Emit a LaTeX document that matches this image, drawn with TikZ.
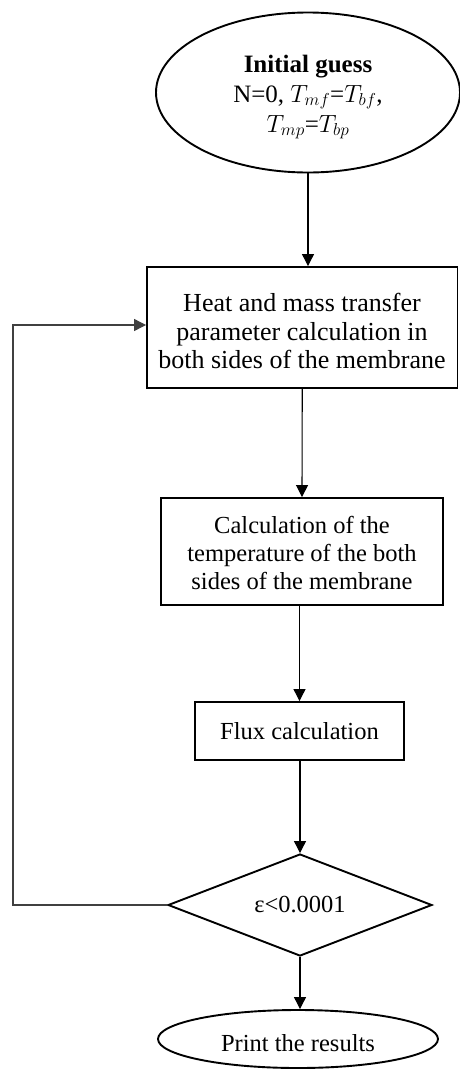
\documentclass[tikz,border=0pt]{standalone}
\usepackage{fontspec}
\setmainfont{Liberation Serif}
\usetikzlibrary{shapes.geometric,arrows.meta}
\begin{document}
\begin{tikzpicture}[x=1pt,y=-1pt,
  shapeline/.style={draw,line width=1.9pt,inner sep=0pt},
  box/.style={shapeline,rectangle},
  arr/.style={line width=1.1pt,-{Triangle[length=12pt,width=12pt]}},
  txt/.style={align=center,inner sep=0pt,font=\fontsize{24.5}{28}\selectfont}]
\useasboundingbox (0,0) rectangle (459,1069);
% shapes
\node[shapeline,ellipse,minimum width=304pt,minimum height=160pt] (start) at (308,92.5) {};
\node[box,minimum width=310.5pt,minimum height=121pt] (b1) at (302.25,327.5) {};
\node[box,minimum width=282pt,minimum height=107pt] (b2) at (302,551.5) {};
\node[box,minimum width=209pt,minimum height=58pt] (b3) at (299.5,731) {};
\node[shapeline,diamond,aspect=2.59,minimum width=264pt,minimum height=102pt] (d) at (300,905) {};
\node[shapeline,ellipse,minimum width=280pt,minimum height=58pt] (end) at (298,1039) {};
% texts
\node[txt,font=\fontsize{25}{30}\selectfont] (tstart) at (308,97) {\textbf{Initial guess}\\N=0, $T_{mf}$=$T_{bf}$,\\$T_{mp}$=$T_{bp}$};
\node[txt,font=\fontsize{26}{28.5}\selectfont] (tb1) at (302,331) {Heat and mass transfer\\parameter calculation in\\both sides of the membrane};
\node[txt] (tb2) at (302,553) {Calculation of the\\temperature of the both\\sides of the membrane};
\node[txt] (tb3) at (299.5,731) {Flux calculation};
\node[txt] (td) at (300,905) {ε<0.0001};
\node[txt] (tend) at (298,1043) {Print the results};
% connectors
\coordinate (c1) at (13,905);
\coordinate (c2) at (13,325);
\draw[arr] (start.south) -- (start.south |- b1.north);
\draw[arr] (b1.south) -- (b2.north);
\draw[arr] (b3.north |- b2.south) -- (b3.north);
\draw[arr] (d.north |- b3.south) -- (d.north);
\draw[arr] (d.south) -- (d.south |- end.north);
\draw[arr,line width=1.2pt,draw=black!75] (d.west) -- (c1) -- (c2) -- (c2 -| b1.west);
\end{tikzpicture}
\end{document}
